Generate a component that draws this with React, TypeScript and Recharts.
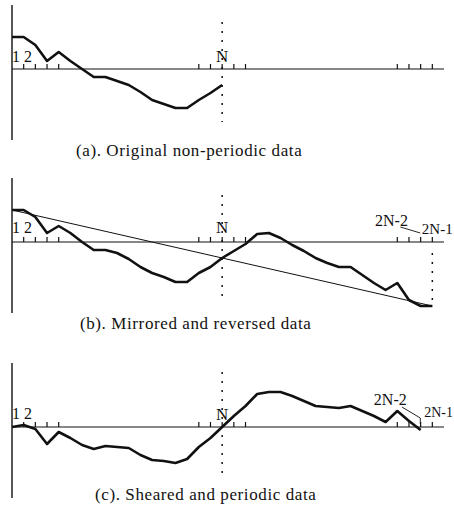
import React from 'react';
import { ComposedChart, Line, XAxis, YAxis, ReferenceLine, ReferenceDot } from 'recharts';

// sample index runs 1..2N-1, N = 19
const N = 19;
const LAST = 2 * N - 1;

// (a) original data, samples 1..N
const original = [32, 32, 24, 8, 17, 8, 0, -8, -8, -12, -16, -23, -31, -35, -39, -39, -31, -24, -16];

// (b) mirrored + reversed, samples 1..2N-1
const mirrored = [
  32, 32, 25, 9, 16, 9, 0, -8, -8, -11, -17, -25, -31, -35, -40, -40, -31, -25, -16,
  -9, -2, 8, 9, 4, -3, -9, -16, -21, -25, -25, -33, -41, -48, -41, -58, -64, -64,
];

// (c) sheared, samples 1..2N-2
const sheared = [
  0, 2, -2, -17, -5, -11, -18, -22, -19, -20, -21, -28, -33, -34, -36, -32, -20, -11, 0,
  11, 21, 33, 35, 35, 31, 26, 21, 20, 19, 21, 16, 11, 5, 16, 6, -3,
];

const ticksA = [2, 3, 4, 5, 17, 18, 19, 20, 21, 34, 35, 36, 37];
const ticksB = [2, 3, 4, 5, 17, 18, 19, 20, 21, 34, 35, 36, 37];
const ticksC = [2, 3, 4, 5, 17, 18, 19, 20, 21, 34, 35, 36, 37];

const captions = [
  '(a). Original non-periodic data',
  '(b). Mirrored and reversed data',
  '(c). Sheared and periodic data',
];

const toRows = (vals: number[]) => vals.map((v, k) => ({ i: k + 1, v }));

const FONT = '"Liberation Serif", "Times New Roman", serif';
const INK = '#111';
const W = 454;
const PLOT_H = 135;

const textShape = (text: string, anchor: 'start' | 'middle' | 'end' = 'middle', size = 16) => (p: any) => (
  <text x={p.cx} y={p.cy} textAnchor={anchor} fontSize={size} fontFamily={FONT} fill={INK}>
    {text}
  </text>
);

interface PanelProps {
  top: number;
  marginTop: number;
  values: number[];
  ticks: number[];
  children?: React.ReactNode;
}

const Panel: React.FC<PanelProps> = ({ top, marginTop, values, ticks, children }) => (
  <div style={{ position: 'absolute', left: 0, top }}>
    <ComposedChart
      width={W}
      height={marginTop + PLOT_H + 10}
      data={toRows(values)}
      margin={{ top: marginTop, right: 10, bottom: 10, left: 12 }}
    >
      <XAxis type="number" dataKey="i" domain={[1, LAST + 1]} hide allowDataOverflow />
      <YAxis type="number" domain={[-71, 64]} hide allowDataOverflow />
      <ReferenceLine x={1} stroke={INK} strokeWidth={1.4} />
      <ReferenceLine y={0} stroke={INK} strokeWidth={1.2} />
      {ticks.map(t => (
        <ReferenceLine key={t} segment={[{ x: t, y: 0 }, { x: t, y: 5 }]} stroke={INK} strokeWidth={1.2} />
      ))}
      {children}
      <Line
        type="linear"
        dataKey="v"
        stroke={INK}
        strokeWidth={2.6}
        strokeLinejoin="round"
        dot={false}
        isAnimationActive={false}
      />
    </ComposedChart>
  </div>
);

const Caption: React.FC<{ text: string; left: number; top: number }> = ({ text, left, top }) => (
  <div
    style={{
      position: 'absolute',
      left,
      top,
      fontFamily: FONT,
      fontSize: 17,
      lineHeight: '17px',
      letterSpacing: 0.6,
      whiteSpace: 'nowrap',
      color: INK,
    }}
  >
    {text}
  </div>
);

export default function App() {
  return (
    <div style={{ position: 'relative', width: W, height: 514, background: '#fff', overflow: 'hidden' }}>
      <style>{'body{margin:0}'}</style>

      <Panel top={0} marginTop={5} values={original} ticks={ticksA}>
        <ReferenceLine segment={[{ x: N, y: 47 }, { x: N, y: -53 }]} stroke={INK} strokeWidth={1.5} strokeDasharray="2 7" />
        <ReferenceDot x={1} y={7} r={0} shape={textShape('1 2', 'start', 16)} />
        <ReferenceDot x={N} y={7} r={0} shape={textShape('N', 'middle', 17)} />
      </Panel>

      <Panel top={170} marginTop={8} values={mirrored} ticks={ticksB}>
        <ReferenceLine
          segment={[{ x: 1, y: mirrored[0] }, { x: LAST, y: mirrored[LAST - 1] }]}
          stroke={INK}
          strokeWidth={1}
        />
        <ReferenceLine segment={[{ x: N, y: 47 }, { x: N, y: -55 }]} stroke={INK} strokeWidth={1.5} strokeDasharray="2 7" />
        <ReferenceLine segment={[{ x: LAST, y: -11 }, { x: LAST, y: -65 }]} stroke={INK} strokeWidth={1.5} strokeDasharray="2 7" />
        <ReferenceLine segment={[{ x: 34.26, y: 15 }, { x: 35.97, y: 9 }]} stroke={INK} strokeWidth={0.9} />
        <ReferenceDot x={1} y={9} r={0} shape={textShape('1 2', 'start', 16)} />
        <ReferenceDot x={N} y={9} r={0} shape={textShape('N', 'middle', 17)} />
        <ReferenceDot x={33.5} y={16} r={0} shape={textShape('2N-2')} />
        <ReferenceDot x={36.1} y={8} r={0} shape={textShape('2N-1', 'start', 15)} />
      </Panel>

      <Panel top={355} marginTop={8} values={sheared} ticks={ticksC}>
        <ReferenceLine segment={[{ x: N, y: 55 }, { x: N, y: -46 }]} stroke={INK} strokeWidth={1.5} strokeDasharray="2 7" />
        <ReferenceLine segment={[{ x: 34.4, y: 20 }, { x: 35.97, y: 9 }]} stroke={INK} strokeWidth={0.9} />
        <ReferenceLine segment={[{ x: 35.97, y: 9 }, { x: 35.97, y: 3 }]} stroke={INK} strokeWidth={0.9} />
        <ReferenceDot x={1} y={8} r={0} shape={textShape('1 2', 'start', 16)} />
        <ReferenceDot x={N} y={7} r={0} shape={textShape('N', 'middle', 17)} />
        <ReferenceDot x={33.4} y={22} r={0} shape={textShape('2N-2')} />
        <ReferenceDot x={36.3} y={10} r={0} shape={textShape('2N-1', 'start', 14)} />
      </Panel>

      <Caption text={captions[0]} left={76} top={142} />
      <Caption text={captions[1]} left={80} top={315} />
      <Caption text={captions[2]} left={95} top={486} />
    </div>
  );
}
